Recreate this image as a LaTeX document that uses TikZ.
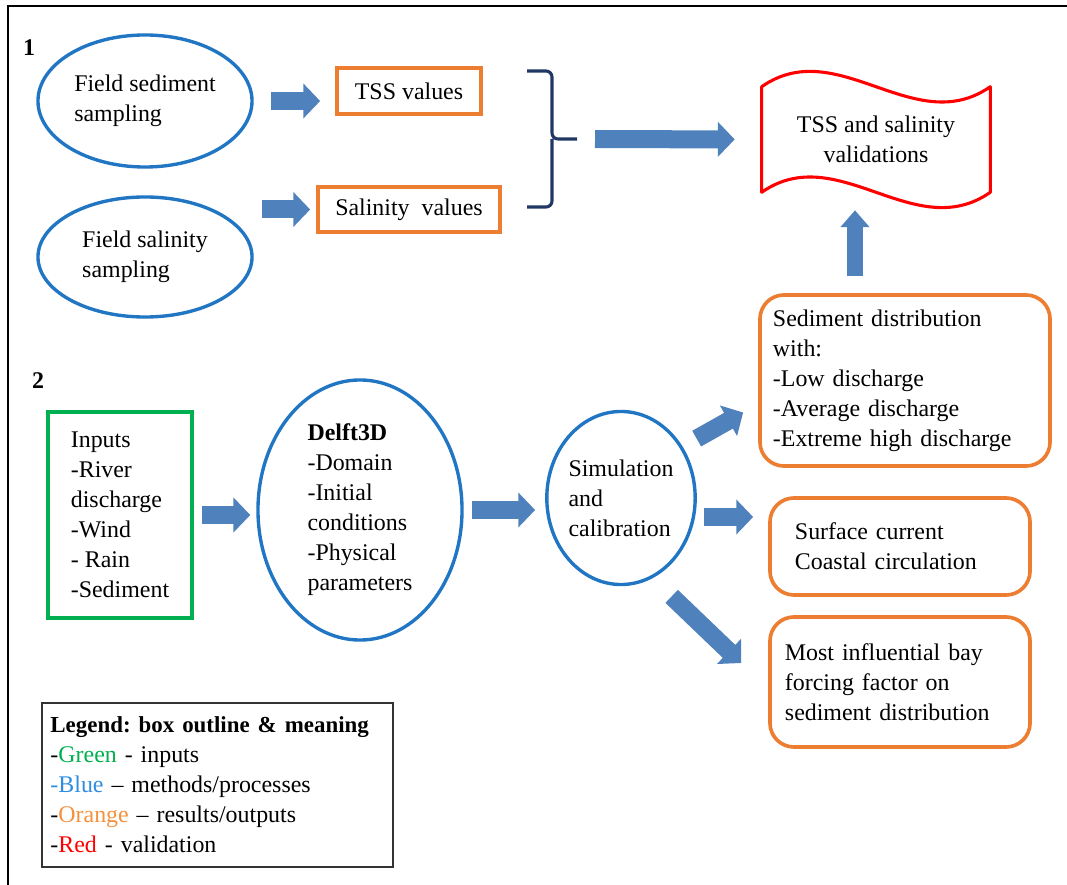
\documentclass[tikz,border=0pt]{standalone}
\usepackage{fontspec}
\setmainfont{Liberation Serif}
\usepackage{xcolor}
\usepackage{tikz}
\usetikzlibrary{shapes.geometric, arrows.meta}

\definecolor{procblue}{RGB}{33,118,196}
\definecolor{inpgreen}{RGB}{0,176,80}
\definecolor{outorange}{RGB}{237,125,49}
\definecolor{arrowblue}{RGB}{79,129,189}
\definecolor{bracenavy}{RGB}{31,56,100}
\definecolor{legblue}{RGB}{46,140,225}
\definecolor{legorange}{RGB}{245,145,60}

\frenchspacing
\begin{document}
\begin{tikzpicture}[
    x=0.025cm, y=-0.025cm,
    font={\fontsize{17}{21.3}\selectfont},
    method/.style={ellipse, draw=procblue, line width=2.4pt, inner sep=0pt, align=left},
    result/.style={rectangle, draw=outorange, line width=2.6pt, align=center},
    resultbox/.style={rectangle, rounded corners=0.6cm, draw=outorange, line width=2.6pt, inner sep=0pt, align=left},
    inputbox/.style={rectangle, draw=inpgreen, line width=2.6pt, align=left},
    blockarrow/.style={-{Triangle[length=0.42cm,width=0.85cm]}, line width=0.45cm, arrowblue},
    thinarrow/.style={-{Triangle[length=0.42cm,width=0.7cm]}, line width=0.38cm, arrowblue}
]
\useasboundingbox (0,0) rectangle (1067,885);

% frame (top and left only)
\draw[line width=2pt] (8,885) -- (8,6) -- (1067,6);

% part 1
\node[font={\fontsize{17}{21.3}\selectfont\bfseries}] (one) at (29,48) {1};
\node[method, minimum width=5.35cm, minimum height=3.3cm] (sed) at (145,101) {Field sediment\\sampling};
\node[method, minimum width=5.35cm, minimum height=3.0cm] (sal) at (145,257) {Field salinity\\sampling};
\node[result, minimum width=3.6cm, minimum height=1.15cm] (tss) at (409,91) {TSS values};
\node[result, minimum width=4.55cm, minimum height=1.125cm] (salv) at (409,209.5) {Salinity\ \ values};
\node[minimum width=5.7cm, minimum height=2.625cm, inner sep=0pt, align=center] (valid) at (876,139.5) {TSS and salinity\\validations};

% wavy red outline
\draw[red, line width=2.2pt, line join=round]
  (valid.north west) .. controls +(76,-53) and +(-76,53) .. (valid.north east)
  -- (valid.south east) .. controls +(-76,53) and +(76,-53) .. (valid.south west)
  -- cycle;

% brace
\coordinate (brtip) at (577,139);
\draw[bracenavy, line width=2.2pt, rounded corners=0.15cm]
  (527,71) -| (552,139) -- (brtip) (552,139) |- (527,207);

\draw[blockarrow, shorten <=0.425cm, shorten >=0.375cm] (sed.east) -- (sed.east -| tss.west);
\draw[blockarrow, shorten <=0.2cm, shorten >=0.15cm] (sal.east |- salv.west) -- (salv.west);
\draw[blockarrow, shorten <=0.45cm, shorten >=0.675cm] (brtip) -- (valid.west);

% part 2
\node[font={\fontsize{17}{21.3}\selectfont\bfseries}] (two) at (38,381) {2};
\node[inputbox, minimum width=3.6cm, minimum height=5.15cm] (inp) at (120,515) {Inputs\\-River\\discharge\\-Wind\\- Rain\\-Sediment};
\node[method, minimum width=5.1cm, minimum height=6.5cm] (delft) at (360,510) {\textbf{Delft3D}\\-Domain\\-Initial\\conditions\\-Physical\\parameters};
\node[method, minimum width=3.7cm, minimum height=4.325cm] (sim) at (621,498) {Simulation\\and\\calibration};
\node[resultbox, minimum width=7.25cm, minimum height=4.275cm, text width=6.6cm] (sedd) at (905,380.5) {Sediment distribution\\with:\\-Low discharge\\-Average discharge\\-Extreme high discharge};
\node[resultbox, minimum width=6.5cm, minimum height=2.425cm, text width=5.25cm] (surf) at (900,546.5) {Surface current\\Coastal circulation};
\node[resultbox, minimum width=6.5cm, minimum height=3.25cm, text width=5.75cm] (most) at (900,682) {Most influential bay\\forcing factor on\\sediment distribution};

\draw[blockarrow, shorten <=0.2cm, shorten >=0.15cm] (inp.east) -- (inp.east -| delft.west);
\draw[blockarrow, shorten <=0.2cm, shorten >=0.25cm] (delft.east) -- (delft.east -| sim.west);
\draw[blockarrow] ([shift={(22,3)}]sim.north east) -- ([shift={(-15,32)}]sedd.west);
\draw[blockarrow] ([shift={(7,19)}]sim.east) -- ([shift={(-15,-29.5)}]surf.west);
\draw[blockarrow] ([shift={(-3,36)}]sim.south east) -- ([shift={(-27,-19)}]most.west);
\draw[thinarrow, shorten <=0.425cm, shorten >=0.45cm] ([xshift=-1.25cm]sedd.north) -- ([xshift=-1.25cm]sedd.north |- valid.south);

% legend
\node[draw=black!80, line width=1.8pt, minimum width=8.775cm, minimum height=4.1cm, text width=8.35cm, inner sep=0pt, align=left] (legend) at (217.5,785)
  {{\fontsize{16.3}{21.3}\selectfont\bfseries Legend: box outline \& meaning}\\
   -\textcolor{inpgreen}{Green} - inputs\\
   \textcolor{legblue}{-Blue} – methods/processes\\
   -\textcolor{legorange}{Orange} – results/outputs\\
   -\textcolor{red}{Red} - validation};

\end{tikzpicture}
\end{document}
